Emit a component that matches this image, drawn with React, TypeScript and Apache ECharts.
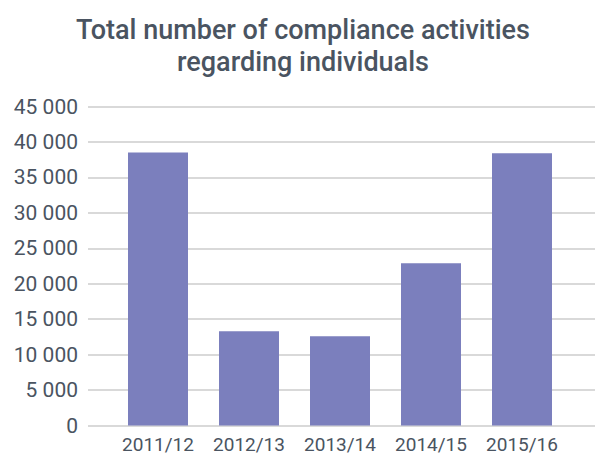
import React, { useEffect, useRef } from "react";
import * as echarts from "echarts";

const categories = ["2011/12", "2012/13", "2013/14", "2014/15", "2015/16"];
const values = [38500, 13300, 12600, 22900, 38400];
const titleText = "Total number of compliance activities\nregarding individuals";

const TEXT = "#4a5461";
const BAR = "#7b7fbd";
const GRID = "#d9d9d9";
const FONT = "Roboto";

function fmt(v: number): string {
  if (v === 0) return "0";
  const s = String(Math.round(v));
  return s.replace(/\B(?=(\d{3})+(?!\d))/g, " ");
}

export default function App() {
  const ref = useRef<HTMLDivElement>(null);
  useEffect(() => {
    if (!ref.current) return;
    const chart = echarts.init(ref.current, undefined, { renderer: "svg" });
    chart.setOption({
      animation: false,
      backgroundColor: "#ffffff",
      title: {
        text: titleText,
        left: 298,
        textAlign: "center",
        top: 9,
        textStyle: {
          color: TEXT,
          fontFamily: FONT,
          fontWeight: 500,
          fontSize: 27,
          lineHeight: 32,
        },
      },
      grid: [
        { left: 88, right: 0, top: 106.5, bottom: 34.5 },
        { left: 112.5, right: 27.5, top: 106.5, bottom: 34.5 },
      ],
      xAxis: [
        {
          type: "category",
          gridIndex: 0,
          data: categories,
          show: false,
        },
        {
          type: "category",
          gridIndex: 1,
          data: categories,
          axisLine: { show: false },
          axisTick: { show: false },
          axisLabel: {
            color: TEXT,
            fontFamily: FONT,
            fontSize: 19,
            margin: 9,
            interval: 0,
          },
        },
      ],
      yAxis: [
        {
          type: "value",
          gridIndex: 0,
          min: 0,
          max: 45000,
          interval: 5000,
          axisLine: { show: false },
          axisTick: { show: false },
          splitLine: { lineStyle: { color: GRID, width: 2 } },
          axisLabel: {
            color: TEXT,
            fontFamily: FONT,
            fontSize: 21,
            margin: 10,
            formatter: (v: number) => fmt(v),
          },
        },
        {
          type: "value",
          gridIndex: 1,
          min: 0,
          max: 45000,
          interval: 5000,
          show: false,
          splitLine: { show: false },
        },
      ],
      series: [
        {
          type: "bar",
          xAxisIndex: 1,
          yAxisIndex: 1,
          data: values,
          barWidth: 60,
          itemStyle: { color: BAR },
        },
      ],
    });
    return () => chart.dispose();
  }, []);
  return (
    <div
      ref={ref}
      style={{ position: "absolute", left: 0, top: 0, width: 595, height: 460 }}
    />
  );
}
